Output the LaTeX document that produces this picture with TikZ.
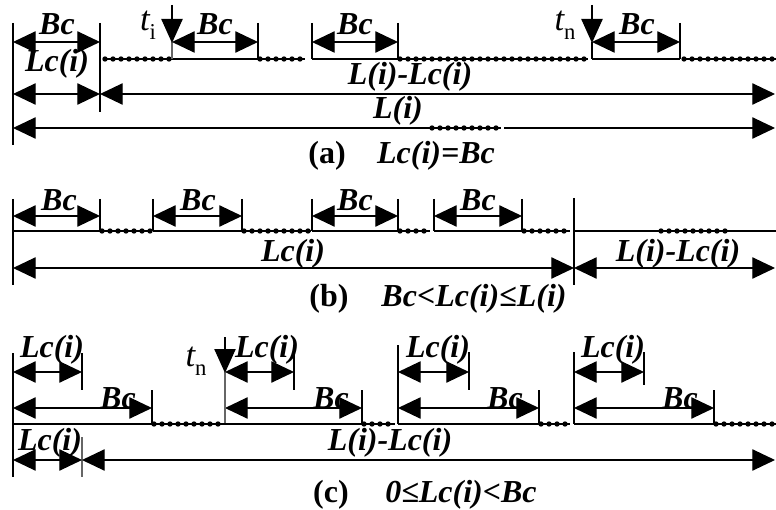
\documentclass[tikz,border=0pt]{standalone}
\usepackage{fontspec}
\setmainfont{Liberation Serif}
\usetikzlibrary{arrows.meta}
\begin{document}
\begin{tikzpicture}[x=0.75pt,y=-0.75pt,
  lab/.style={inner sep=0pt, font=\fontsize{24}{26}\selectfont\bfseries\itshape},
  capt/.style={inner sep=0pt, font=\fontsize{24}{26}\selectfont\bfseries},
  tlab/.style={inner sep=0pt, font=\fontsize{26}{28}\selectfont},
  ln/.style={line width=0.9pt},
  thinln/.style={line width=0.8pt, black!60},
  dim/.style={line width=0.9pt, {Triangle[length=17pt,width=16pt]}-{Triangle[length=17pt,width=16pt]}},
  downarr/.style={line width=0.9pt, -{Triangle[length=18pt,width=16pt]}},
  beads/.style={line width=2pt, postaction={draw, line width=4pt, line cap=round, dash pattern=on 0pt off 6pt}},
]
\useasboundingbox (0,0) rectangle (776,510);

% ================= (a) =================
\draw[ln] (13,23) -- (13,145);
\draw[ln] (100,23) -- (100,112);
\draw[dim] (13,42) -- (100,42);
\draw[dim] (13,94) -- (100,94);
\draw[dim] (100,94) -- (775,94);
\draw[dim] (13,128) -- (775,128);
\draw[white, line width=3pt] (430,128) -- (504,128);
\draw[beads] (432,128) -- (501,128);
% timeline
\draw[beads] (105,59) -- (172,59);
\draw[ln] (172,59) -- (258,59);
\draw[beads] (260,59) -- (305,59);
\draw[ln] (312,59) -- (398,59);
\draw[beads] (400,59) -- (588,59);
\draw[ln] (592,59) -- (680,59);
\draw[beads] (684,59) -- (776,59);
% ticks
\draw[ln] (258,23) -- (258,59);
\draw[ln] (312,23) -- (312,59);
\draw[ln] (398,23) -- (398,59);
\draw[ln] (680,23) -- (680,59);
\draw[thinln] (172,42) -- (172,59);
\draw[ln] (592,42) -- (592,59);
\draw[downarr] (172,5) -- (172,43);
\draw[downarr] (592,5) -- (592,43);
\draw[dim] (172,42) -- (258,42);
\draw[dim] (312,42) -- (398,42);
\draw[dim] (592,42) -- (680,42);
% labels
\node[lab] (a1) at (57,24) {Bc};
\node[lab] (a2) at (57,64) {Lc(i)};
\node[tlab] (ati) at (148,25) {{\itshape t}\raisebox{-0.25em}{\fontsize{17}{18}\selectfont i}};
\node[lab] (a3) at (215,24) {Bc};
\node[lab] (a4) at (355,24) {Bc};
\node[lab] (a5) at (410,77) {L(i)-Lc(i)};
\node[lab] (a6) at (398,111) {L(i)};
\node[tlab] (atn) at (565,25) {{\itshape t}\raisebox{-0.25em}{\fontsize{17}{18}\selectfont n}};
\node[lab] (a7) at (637,24) {Bc};
\node[capt] (ca) at (327,156) {(a)};
\node[lab] (cax) at (436,156) {Lc(i)=Bc};

% ================= (b) =================
\draw[ln] (13,199) -- (13,285);
\foreach \x in {100,153,242,312,398,434,522} \draw[ln] (\x,199) -- (\x,231);
\draw[ln] (574,198) -- (574,285);
\draw[dim] (13,216) -- (100,216);
\draw[dim] (153,216) -- (242,216);
\draw[dim] (312,216) -- (398,216);
\draw[dim] (434,216) -- (522,216);
\draw[ln] (13,231) -- (100,231);
\draw[beads] (102,231) -- (150,231);
\draw[ln] (153,231) -- (242,231);
\draw[beads] (244,231) -- (311,231);
\draw[ln] (312,231) -- (398,231);
\draw[beads] (400,231) -- (430,231);
\draw[ln] (434,231) -- (522,231);
\draw[beads] (524,231) -- (570,231);
\draw[ln] (574,231) -- (776,231);
\draw[beads] (661,231) -- (728,231);
\draw[dim] (13,268) -- (574,268);
\draw[dim] (574,268) -- (775,268);
\node[lab] (b1) at (59,200) {Bc};
\node[lab] (b2) at (198,200) {Bc};
\node[lab] (b3) at (355,200) {Bc};
\node[lab] (b4) at (478,200) {Bc};
\node[lab] (b5) at (293,254) {Lc(i)};
\node[lab] (b6) at (678,254) {L(i)-Lc(i)};
\node[capt] (cb) at (329,299) {(b)};
\node[lab] (cbx) at (474,299) {Bc<Lc(i)≤L(i)};

% ================= (c) =================
\draw[ln] (13,353) -- (13,477);
\draw[dim] (13,372) -- (82,372);
\draw[dim] (225,372) -- (294,372);
\draw[dim] (398,372) -- (469,372);
\draw[dim] (574,372) -- (644,372);
\draw[ln] (82,353) -- (82,390);
\draw[ln] (294,345) -- (294,390);
\draw[ln] (469,352) -- (469,390);
\draw[ln] (644,352) -- (644,385);
\draw[dim] (13,408) -- (152,408);
\draw[dim] (225,408) -- (362,408);
\draw[dim] (398,408) -- (539,408);
\draw[dim] (574,408) -- (714,408);
\foreach \x in {152,362,539,714} \draw[ln] (\x,390) -- (\x,424);
\draw[ln] (398,345) -- (398,424);
\draw[ln] (574,352) -- (574,424);
\draw[thinln] (225,372) -- (225,424);
\draw[downarr] (225,337) -- (225,373);
\draw[ln] (13,424) -- (152,424);
\draw[beads] (154,424) -- (225,424);
\draw[ln] (225,424) -- (362,424);
\draw[beads] (364,424) -- (395,424);
\draw[ln] (398,424) -- (539,424);
\draw[beads] (541,424) -- (570,424);
\draw[ln] (574,424) -- (714,424);
\draw[beads] (716,424) -- (776,424);
\draw[thinln] (82,437) -- (82,477);
\draw[dim] (13,460) -- (82,460);
\draw[dim] (82,460) -- (775,460);
\node[lab] (c1) at (52,350) {Lc(i)};
\node[lab] (c2) at (267,350) {Lc(i)};
\node[lab] (c3) at (438,350) {Lc(i)};
\node[lab] (c4) at (613,350) {Lc(i)};
\node[lab] (c5) at (118,398) {Bc};
\node[lab] (c6) at (331,398) {Bc};
\node[lab] (c7) at (505,398) {Bc};
\node[lab] (c8) at (680,398) {Bc};
\node[lab] (c9) at (50,443) {Lc(i)};
\node[lab] (c10) at (390,443) {L(i)-Lc(i)};
\node[tlab] (ctn) at (196,361) {{\itshape t}\raisebox{-0.25em}{\fontsize{17}{18}\selectfont n}};
\node[capt] (cc) at (331,495) {(c)};
\node[lab] (ccx) at (461,495) {0≤Lc(i)<Bc};
\end{tikzpicture}
\end{document}
